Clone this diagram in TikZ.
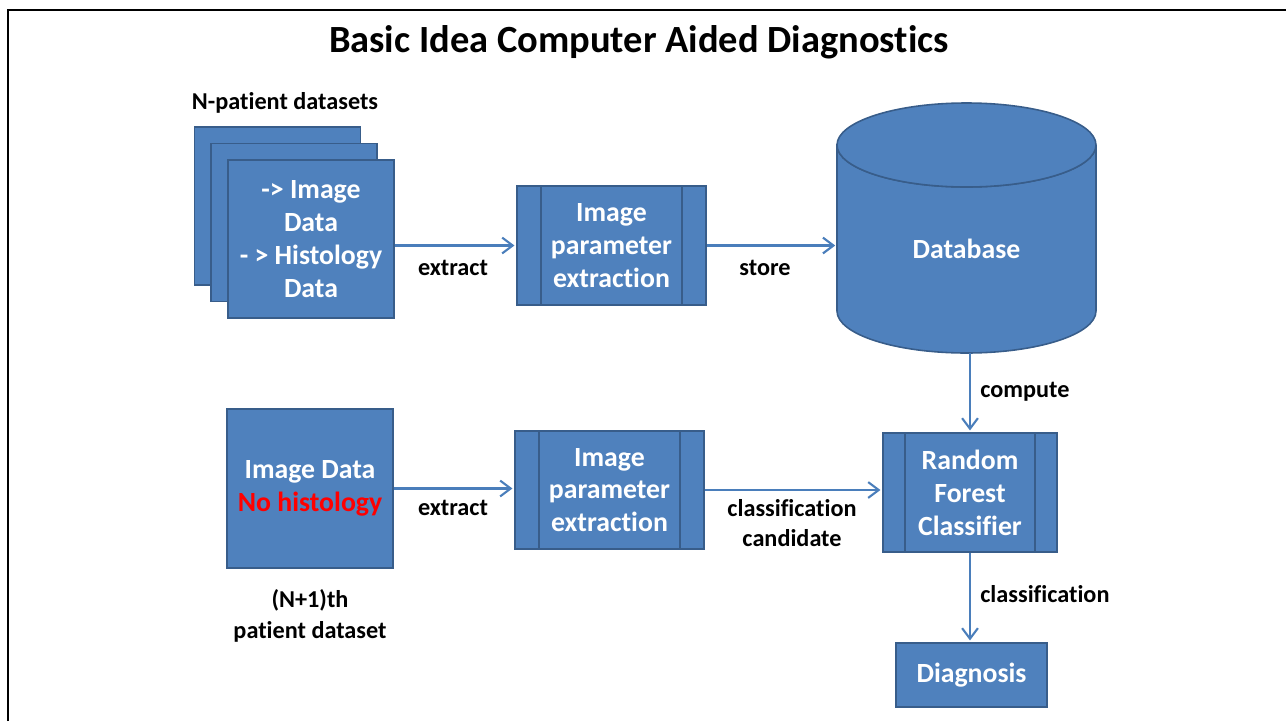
\documentclass[tikz,border=0pt]{standalone}
\usepackage{fontspec}
\setmainfont{Carlito}[Ligatures=NoCommon]
\usetikzlibrary{arrows.meta,positioning,calc}
\definecolor{boxblue}{HTML}{4F81BD}
\definecolor{boxedge}{HTML}{385D8A}
\definecolor{lineblue}{HTML}{4A7EBB}
\tikzset{
    box/.style={draw=boxedge, line width=0.9pt, fill=boxblue, text=white,
        font=\fontsize{15.8}{18.7}\selectfont\bfseries, align=center, inner sep=0pt},
    bar/.style={draw=boxedge, line width=0.9pt},
    flow/.style={draw=lineblue, line width=1.2pt, -{Straight Barb[length=6pt,width=9pt]}, shorten >=1pt},
    lbl/.style={font=\fontsize{13.8}{17.5}\selectfont\bfseries, align=center, inner sep=0pt}
}

\begin{document}
\begin{tikzpicture}[x=0.02cm, y=0.02cm]
    \useasboundingbox (0,0) rectangle (1286,-721);

        % Draw frame.
        \draw[line width=1.6pt] (8,-721) -- (8,-10) -- (1286,-10);

        % Draw title.
        \node[font=\fontsize{21.9}{26}\selectfont\bfseries] (title) at (639,-42) {Basic Idea Computer Aided Diagnostics};

        % Draw stacked datasets.
        \foreach \i/\n in {0/setA,1/setB}
            \node[box, minimum width=3.32cm, minimum height=3.16cm] (\n) at ({277.5+16.5*\i},{-206-16.5*\i}) {};
        \node[box, minimum width=3.32cm, minimum height=3.16cm] (setC) at (311,-239) {-> Image\\Data\\- > Histology\\Data};
        \node[lbl] (setlbl) at (285,-103) {N-patient datasets};

        % Draw new patient.
        \node[box, minimum width=3.32cm, minimum height=3.18cm] (img) at (310,-488.5) {Image Data\\\textcolor{red}{No histology}};
        \node[lbl, font=\fontsize{13.8}{18}\selectfont\bfseries] (imglbl) at (310,-616) {(N+1)th\\patient dataset};

        % Draw process boxes.
        \node[box, minimum width=3.78cm, minimum height=2.38cm] (ipeA) at (611.5,-245.5) {Image\\parameter\\extraction};
        \node[box, minimum width=3.78cm, minimum height=2.36cm] (ipeB) at (609.5,-490) {Image\\parameter\\extraction};
        \node[box, minimum width=3.48cm, minimum height=2.38cm] (rf) at (970,-492.5) {Random\\Forest\\Classifier};
        \foreach \p/\w in {ipeA/.49,ipeB/.49,rf/.45} {
            \draw[bar] ([xshift=\w cm]\p.north west) -- ([xshift=\w cm]\p.south west);
            \draw[bar] ([xshift=-\w cm]\p.north east) -- ([xshift=-\w cm]\p.south east);
        }
        \node[box, minimum width=3.02cm, minimum height=1.28cm] (diag) at (971.5,-675) {Diagnosis};

        % Draw database.
        \draw[bar, fill=boxblue] (837,-145) -- (837,-311)
            arc[start angle=180, end angle=360, x radius=129.5, y radius=42] -- (1096,-145)
            arc[start angle=0, end angle=-180, x radius=129.5, y radius=42] -- cycle;
        \draw[bar, fill=boxblue] (966.5,-145) ellipse [x radius=129.5, y radius=42];
        \node[box, draw=none, fill=none] (db) at (966.5,-249) {Database};
        \coordinate (dbW) at (837,-247);
        \coordinate (dbS) at (970,-353);

        % Draw connectors.
        \draw[flow] (setC.east |- ipeA) -- (ipeA.west);
        \draw[flow] (ipeA.east) -- (ipeA -| dbW);
        \draw[flow] (img.east) -- (img -| ipeB.west);
        \draw[flow] (ipeB.east) -- (ipeB -| rf.west);
        \draw[flow] (dbS) -- (rf.north);
        \draw[flow] (rf.south) -- (rf.south |- diag.north);

        % Connector labels.
        \node[lbl] (ex1) at (453,-268) {extract};
        \node[lbl] (ex2) at (453,-508) {extract};
        \node[lbl] (st) at (765,-268) {store};
        \node[lbl, anchor=west] (cp) at (980,-392) {compute};
        \node[lbl] (cc) at (792,-523) {classification\\candidate};
        \node[lbl, anchor=west] (cl) at (980,-594) {classification};
    \end{tikzpicture}
\end{document}
